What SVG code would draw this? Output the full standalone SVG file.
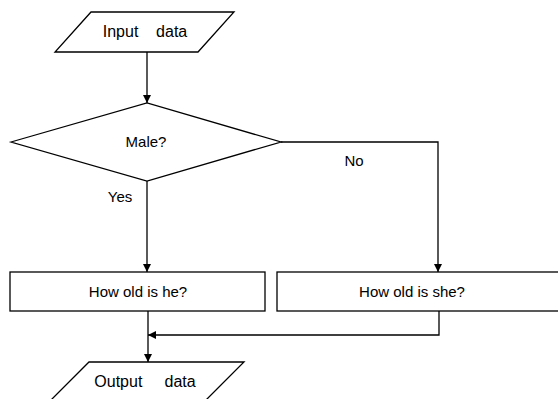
<svg xmlns="http://www.w3.org/2000/svg" width="558" height="399" viewBox="0 0 558 399">
<style>
.s{fill:#fff;stroke:#000;stroke-width:1.3}
.c{fill:none;stroke:#000;stroke-width:1.3}
text{font-family:"Liberation Sans",Arial,sans-serif;font-size:15px;fill:#000;white-space:pre}
.io{font-size:16px}
</style>
<defs>
<marker id="ah" viewBox="0 0 10 10" refX="10" refY="5" markerWidth="9" markerHeight="8" markerUnits="userSpaceOnUse" orient="auto">
<path d="M0,0 L10,5 L0,10 z" fill="#000"/>
</marker>
</defs>
<rect width="558" height="399" fill="#fff"/>
<g id="connectors">
<path class="c" d="M147,52 V103" marker-end="url(#ah)"/>
<path class="c" d="M147,181 V272" marker-end="url(#ah)"/>
<path class="c" d="M281,142 H438 V272" marker-end="url(#ah)"/>
<path class="c" d="M439,311 V335 H148" marker-end="url(#ah)"/>
<path class="c" d="M148,311 V362" marker-end="url(#ah)"/>
<text x="120" y="202" text-anchor="middle">Yes</text>
<text x="354" y="166" text-anchor="middle">No</text>
</g>
<g id="input">
<polygon class="s" points="91,12 234,12 198,52 55,52"/>
<text class="io" x="145" y="37" text-anchor="middle">Input    data</text>
</g>
<g id="decision">
<polygon class="s" points="11,142 147,103 281,142 147,181"/>
<text x="146" y="147" text-anchor="middle">Male?</text>
</g>
<g id="he">
<rect class="s" x="10" y="272" width="255" height="39"/>
<text x="138" y="297" text-anchor="middle">How old is he?</text>
</g>
<g id="she">
<rect class="s" x="277" y="272" width="290" height="39"/>
<text x="412" y="297" text-anchor="middle">How old is she?</text>
</g>
<g id="output">
<polygon class="s" points="89,362 244,362 205,401 50,401"/>
<text class="io" x="145" y="387" text-anchor="middle">Output     data</text>
</g>
</svg>
